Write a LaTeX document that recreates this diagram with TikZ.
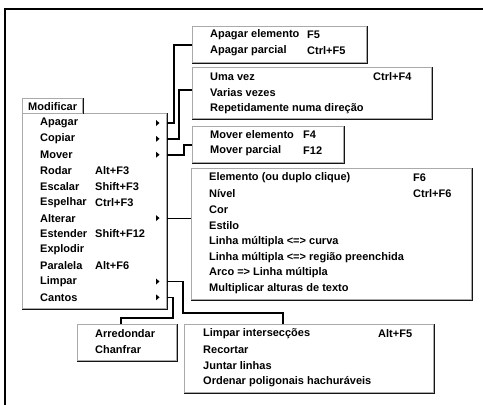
\documentclass[tikz,border=0pt]{standalone}
\usepackage{fontspec}
\setmainfont{Liberation Sans}
\usetikzlibrary{positioning, calc}
\definecolor{WinEdge}{RGB}{170,170,170}
\definecolor{WinDark}{RGB}{20,20,20}

\tikzset{
  menubox/.style={draw=WinEdge, line width=1.3pt, fill=white,
                  anchor=north west, inner sep=0pt},
  shade/.style={WinDark, line width=1.5pt},
  item/.style={anchor=west, inner sep=0pt,
               font=\fontsize{11}{13}\selectfont\bfseries},
  link/.style={line width=1.7pt},
  thinlink/.style={line width=1pt},
  tip/.style={fill=black}
}

\begin{document}
\begin{tikzpicture}[x=1pt, y=-1pt]
  \useasboundingbox (0,0) rectangle (483,405);

  % Outer frame
  \draw[line width=2pt] (5,405) -- (5,9) -- (483,9);

  % Main menu
  \node[menubox, minimum width=60, minimum height=15] (tab) at (22,98) {};
  \node[item, anchor=center] at (tab.center) {Modificar};
  \node[menubox, minimum width=144, minimum height=195] (menu) at (22,113) {};
  \draw[shade] (tab.north east) -- (tab.south east);
  \draw[shade] (menu.north east) |- (menu.south west);

  \foreach \t/\k [count=\i] in {Apagar/, Copiar/, Mover/, Rodar/Alt+F3,
      Escalar/Shift+F3, Espelhar/Ctrl+F3, Alterar/, Estender/Shift+F12,
      Explodir/, Paralela/Alt+F6, Limpar/, Cantos/} {
    \node[item] (m\i) at (40, 123+15.85*\i-15.85) {\t};
    \node[item] at (95, 123+15.85*\i-15.85) {\k};
  }
  \foreach \i in {1,2,3,7,11,12} {
    \fill[tip] ($(156,0 |- m\i)+(0,-3)$) -- ++(3.5,3) -- ++(-3.5,3) -- cycle;
  }

  % Apagar
  \node[menubox, minimum width=174, minimum height=36] (bApagar) at (192,26) {};
  \draw[shade] (bApagar.north east) |- (bApagar.south west);
  \node[item] (a1) at (210,35) {Apagar elemento};
  \node[item] at (307,35) {F5};
  \node[item] (a2) at (210,51) {Apagar parcial};
  \node[item] at (307,51) {Ctrl+F5};

  % Copiar
  \node[menubox, minimum width=239, minimum height=51] (bCopiar) at (192,67) {};
  \draw[shade] (bCopiar.north east) |- (bCopiar.south west);
  \foreach \t [count=\i] in {Uma vez, Varias vezes, Repetidamente numa direção} {
    \node[item] (c\i) at (210, 77+15.6*\i-15.6) {\t};
  }
  \node[item] at (373,77) {Ctrl+F4};

  % Mover
  \node[menubox, minimum width=151, minimum height=36] (bMover) at (192,126) {};
  \draw[shade] (bMover.north east) |- (bMover.south west);
  \node[item] (v1) at (210,135) {Mover elemento};
  \node[item] at (303,135) {F4};
  \node[item] (v2) at (210,151) {Mover parcial};
  \node[item] at (303,151) {F12};

  % Alterar
  \node[menubox, minimum width=280, minimum height=131] (bAlterar) at (191,168) {};
  \draw[shade] (bAlterar.north east) |- (bAlterar.south west);
  \foreach \t [count=\i] in {Elemento (ou duplo clique), Nível, Cor, Estilo,
      Linha múltipla <=> curva, Linha múltipla <=> região preenchida,
      Arco => Linha múltipla, Multiplicar alturas de texto} {
    \node[item] (e\i) at (209, 178+15.85*\i-15.85) {\t};
  }
  \node[item] at (413,178) {F6};
  \node[item] at (413,194) {Ctrl+F6};

  % Cantos
  \node[menubox, minimum width=99, minimum height=36] (bCantos) at (77,324) {};
  \draw[shade] (bCantos.north east) |- (bCantos.south west);
  \node[item] (k1) at (95,334) {Arredondar};
  \node[item] (k2) at (95,350) {Chanfrar};

  % Limpar
  \node[menubox, minimum width=249, minimum height=68] (bLimpar) at (184,324) {};
  \draw[shade] (bLimpar.north east) |- (bLimpar.south west);
  \foreach \t [count=\i] in {Limpar intersecções, Recortar, Juntar linhas,
      Ordenar poligonais hachuráveis} {
    \node[item] (l\i) at (203, 334+15.85*\i-15.85) {\t};
  }
  \node[item] at (378,334) {Alt+F5};

  % Connectors
  \draw[link] (menu.east |- m1) -- ++(7,0) |- (bApagar.west);
  \draw[link] (menu.east |- m2) -- ++(12,0) |- ($(bCopiar.north west)+(0,23)$);
  \draw[link] (menu.east |- m3) -- ++(17,0) |- (bMover.west);
  \draw[thinlink] (menu.east |- m7) -- (bAlterar.west |- m7);
  \draw[link] (menu.east |- m11) -| ($(menu.south east)+(16,4)$)
              -| ($(bLimpar.north west)+(99,0)$);
  \draw[link] (menu.east |- m12) -| ($(menu.south east)+(6,9)$)
              -| ($(bCantos.north west)+(44,0)$);
\end{tikzpicture}
\end{document}
